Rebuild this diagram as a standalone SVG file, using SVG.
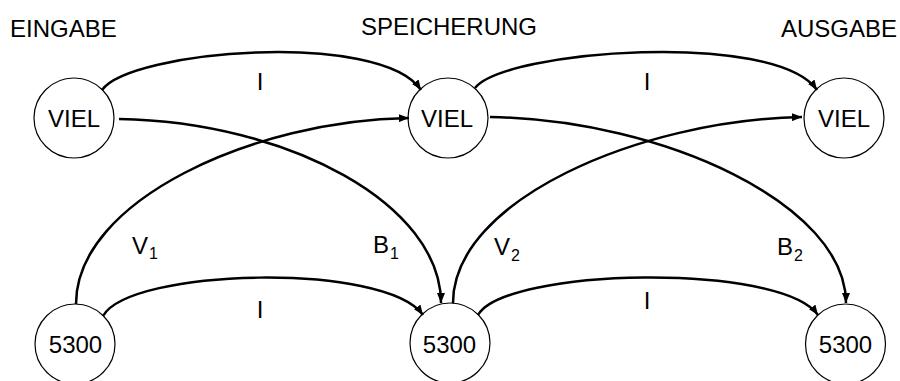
<svg xmlns="http://www.w3.org/2000/svg" width="900" height="381" viewBox="0 0 900 381">
<defs>
<style>
text{font-family:"Liberation Sans",Arial,sans-serif;font-size:24px;fill:#000}
.sub{font-size:16px}
.node circle{fill:#fff;stroke:#000;stroke-width:1.2}
.edge{fill:none;stroke:#000;stroke-width:2.5;marker-end:url(#ah)}
</style>
<marker id="ah" viewBox="0 0 10 8" refX="10" refY="4" markerWidth="4" markerHeight="3.2" orient="auto" markerUnits="strokeWidth">
<path d="M0,0L10,4L0,8z" fill="#000"/>
</marker>
</defs>
<rect width="900" height="381" fill="#fff"/>
<g id="headers">
<text x="10" y="37">EINGABE</text>
<text x="449" y="35" text-anchor="middle">SPEICHERUNG</text>
<text x="897" y="37" text-anchor="end">AUSGABE</text>
</g>
<g id="nodes">
<g id="viel1" class="node"><circle cx="74" cy="118" r="40"/><text x="74" y="127" text-anchor="middle">VIEL</text></g>
<g id="viel2" class="node"><circle cx="448" cy="118" r="40"/><text x="447" y="127" text-anchor="middle">VIEL</text></g>
<g id="viel3" class="node"><circle cx="844" cy="118" r="40"/><text x="844" y="127" text-anchor="middle">VIEL</text></g>
<g id="n5300a" class="node"><circle cx="75" cy="344" r="40"/><text x="75.5" y="353" text-anchor="middle">5300</text></g>
<g id="n5300b" class="node"><circle cx="450" cy="343" r="40"/><text x="449.5" y="353" text-anchor="middle">5300</text></g>
<g id="n5300c" class="node"><circle cx="845.5" cy="344" r="40"/><text x="845.5" y="353" text-anchor="middle">5300</text></g>
</g>
<g id="connectors">
<path class="edge" d="M102,90 C130,50 380,30 421,90"/>
<path class="edge" d="M475,88 C505,50 775,30 817,90"/>
<path class="edge" d="M119,119 C290,122 441,205 441,303"/>
<path class="edge" d="M76,304 C76,200 255,120 409,118"/>
<path class="edge" d="M490,117 C665,120 846,205 846,303"/>
<path class="edge" d="M453,303 C453,200 640,120 802,117"/>
<path class="edge" d="M103,316 C130,268 385,262 423,315"/>
<path class="edge" d="M478,315 C505,268 780,262 818,315"/>
</g>
<g id="labels">
<text x="260" y="90" text-anchor="middle">I</text>
<text x="647" y="90" text-anchor="middle">I</text>
<text x="260" y="318" text-anchor="middle">I</text>
<text x="647" y="309" text-anchor="middle">I</text>
<text x="132" y="254">V<tspan class="sub" dx="1" dy="5">1</tspan></text>
<text x="373" y="253">B<tspan class="sub" dx="1" dy="6">1</tspan></text>
<text x="494" y="255">V<tspan class="sub" dx="1" dy="6">2</tspan></text>
<text x="777" y="255">B<tspan class="sub" dx="1" dy="6">2</tspan></text>
</g>
</svg>
